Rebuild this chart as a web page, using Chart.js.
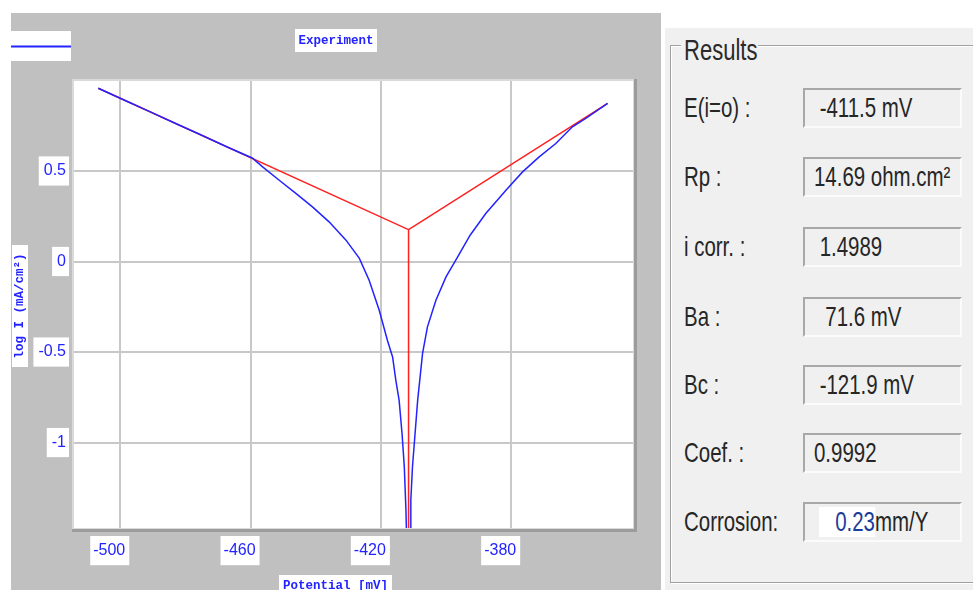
<!DOCTYPE html>
<html>
<head>
<meta charset="utf-8">
<script src="https://cdn.jsdelivr.net/npm/chart.js@4/dist/chart.umd.min.js"></script>
<style>
  html, body { margin: 0; padding: 0; background: #fff; }
  body { width: 973px; height: 590px; position: relative; overflow: hidden; font-family: "Liberation Sans", Arial, sans-serif; }
  #plotWrap { position: absolute; left: 11px; top: 13px; width: 650px; height: 577px; background: #c0c0c0; }
  #plot { display: block; }
  #panel { position: absolute; left: 665px; top: 28px; width: 308px; height: 562px; background: #f0f0f0; }
  .group { position: absolute; left: 5px; top: 17px; width: 320px; height: 536px;
           border: 1px solid #a0a0a0; box-shadow: 1px 1px 0 #fff inset, 1px 1px 0 #fff; }
  .groupTitle { position: absolute; left: 16px; top: 4px; width: 74px; height: 36px; line-height: 36px; padding: 0 0 0 3px;
                background: #f0f0f0; color: #2a2a2a; font-size: 29px; white-space: pre; overflow: visible; }
  .groupTitle .txt { transform: scaleX(0.76); }
  .txt { display: inline-block; transform: scaleX(0.73); transform-origin: 0 50%; white-space: pre; }
  .row { position: absolute; left: 0; width: 308px; height: 40px; }
  .lbl { position: absolute; left: 19px; top: 0; height: 40px; line-height: 40px; font-size: 28px; color: #262626; }
  .box { position: absolute; left: 138px; top: 0; width: 146px; height: 36px; line-height: 36px;
         border: 2px solid; border-color: #a8a8a8 #fbfbfb #fbfbfb #a8a8a8; background: #f0f0f0;
         font-size: 28px; color: #262626; padding-left: 9px; box-sizing: content-box; overflow: hidden; }
  .hl { background: #fff; margin-left: 7px; padding-left: 22px; color: #1b3c9a; display: inline-block; line-height: 30px; }
</style>
</head>
<body>
<div id="plotWrap"><canvas id="plot" width="650" height="577"></canvas></div>
<div id="panel">
  <div class="group"></div>
  <div class="groupTitle"><span class="txt">Results</span></div>
</div>
<script>
// Measured polarization curve: potential (mV) and log current density
const potential = [
  -506.75, -498.0, -491.1, -483.0, -475.8, -467.0, -459.5, -456.3, -451.2, -446.1,
  -441.0, -435.9, -430.7, -426.6, -423.6, -420.5, -418.0, -416.4, -415.4, -414.4,
  -413.5, -412.8, -412.3, -412.0,
  -411.0, -410.8, -410.3, -409.5, -408.7, -407.2, -405.7, -403.1, -400.0, -397.0,
  -392.6, -387.8, -381.6, -376.5, -371.4, -366.3, -361.2, -357.1, -350.4
];
const logCurrent = [
  0.957, 0.885, 0.829, 0.762, 0.704, 0.631, 0.572, 0.523, 0.449, 0.376,
  0.302, 0.219, 0.118, 0.017, -0.103, -0.269, -0.435, -0.527, -0.656, -0.766,
  -0.950, -1.135, -1.374, -1.600,
  -1.600, -1.319, -1.135, -0.950, -0.766, -0.508, -0.361, -0.214, -0.085, 0.007,
  0.145, 0.265, 0.394, 0.495, 0.578, 0.652, 0.744, 0.790, 0.873
];

// Tafel fit results
const eCorr = -411.5;        // mV
const iCorr = 1.4989;        // mA/cm2
const fitPotential = [-506.75, eCorr, eCorr, eCorr, -350.4];
const fitLogCurrent = [0.957, Math.log10(iCorr), -1.6, Math.log10(iCorr), 0.873];

// Axis ticks
const xTicks = [-500, -460, -420, -380];
const yTicks = [-1, -0.5, 0, 0.5];

// Results table
const resultLabels = ['E(i=o) :', 'Rp :', 'i corr. :', 'Ba :', 'Bc :', 'Coef. :', 'Corrosion:'];
const resultValues = [' ' + eCorr.toFixed(1) + ' mV', '14.69 ohm.cm\u00b2', ' ' + iCorr.toFixed(4),
                      '  71.6 mV', ' -121.9 mV', '0.9992', '0.23'];
const corrosionUnit = 'mm/Y';

// build the results panel
const panel = document.getElementById('panel');
const rowTops = [60, 129, 199, 269, 337, 405, 474];
resultLabels.forEach((lab, i) => {
  const row = document.createElement('div');
  row.className = 'row';
  row.style.top = rowTops[i] + 'px';
  const l = document.createElement('div');
  l.className = 'lbl';
  l.innerHTML = '<span class="txt"></span>';
  l.firstChild.textContent = lab;
  const b = document.createElement('div');
  b.className = 'box';
  const t = document.createElement('span');
  t.className = 'txt';
  if (i === resultLabels.length - 1) {
    const hl = document.createElement('span');
    hl.className = 'hl';
    hl.textContent = resultValues[i];
    t.appendChild(hl);
    t.appendChild(document.createTextNode(corrosionUnit));
  } else {
    t.textContent = resultValues[i];
  }
  b.appendChild(t);
  row.appendChild(l);
  row.appendChild(b);
  panel.appendChild(row);
});

const toPoints = (xs, ys) => xs.map((x, i) => ({ x: x, y: ys[i] }));

const blue = '#2323ff';
const monoFont = 'bold 12.5px "Liberation Mono", "DejaVu Sans Mono", monospace';

function boxedText(ctx, text, cx, cy, bx, by, bw, bh, rotate) {
  ctx.save();
  ctx.fillStyle = '#fff';
  ctx.fillRect(bx, by, bw, bh);
  ctx.translate(cx, cy);
  if (rotate) ctx.rotate(-Math.PI / 2);
  ctx.font = monoFont;
  ctx.fillStyle = blue;
  ctx.textAlign = 'center';
  ctx.textBaseline = 'middle';
  ctx.fillText(text, 0, 0);
  ctx.restore();
}

const frame = {
  id: 'frame',
  beforeDraw(chart) {
    const { ctx, chartArea: a } = chart;
    ctx.save();
    ctx.fillStyle = '#fff';
    ctx.fillRect(a.left, a.top, a.right - a.left, a.bottom - a.top);
    ctx.restore();
  },
  afterDraw(chart) {
    const { ctx, chartArea: a } = chart;
    ctx.save();
    // plot frame
    ctx.strokeStyle = '#dadada';
    ctx.lineWidth = 2;
    ctx.strokeRect(a.left - 1, a.top - 1, a.right - a.left + 2, a.bottom - a.top + 2);
    ctx.strokeStyle = '#9c9c9c';
    ctx.lineWidth = 3;
    ctx.beginPath();
    ctx.moveTo(a.left - 2, a.bottom + 2.5);
    ctx.lineTo(a.right + 2.5, a.bottom + 2.5);
    ctx.lineTo(a.right + 2.5, a.top - 2);
    ctx.stroke();
    // legend swatch
    ctx.fillStyle = '#fff';
    ctx.fillRect(0, 18, 60, 30);
    ctx.strokeStyle = blue;
    ctx.lineWidth = 2;
    ctx.beginPath();
    ctx.moveTo(0, 33.5);
    ctx.lineTo(60, 33.5);
    ctx.stroke();
    ctx.restore();
    boxedText(ctx, 'Experiment', 325, 27.5, 284, 16, 82, 23, false);
    boxedText(ctx, 'Potential [mV]', 324.5, 573, 268, 562, 113, 20, false);
    boxedText(ctx, 'log I (mA/cm\u00b2)', 9, 293, 1, 232, 16, 122, true);
  }
};

const tickFont = { family: '"Liberation Sans", Arial, sans-serif', size: 16 };

new Chart(document.getElementById('plot'), {
  type: 'scatter',
  data: {
    datasets: [
      {
        label: 'Experiment',
        data: toPoints(potential, logCurrent),
        showLine: true,
        borderColor: blue,
        borderWidth: 1.5,
        pointRadius: 0,
        tension: 0
      },
      {
        label: 'Tafel fit',
        data: toPoints(fitPotential, fitLogCurrent),
        showLine: true,
        borderColor: '#ff2020',
        borderWidth: 1.5,
        pointRadius: 0,
        tension: 0
      }
    ]
  },
  options: {
    responsive: false,
    animation: false,
    devicePixelRatio: 1,
    layout: { padding: { top: 68, right: 28, left: 0, bottom: 0 } },
    plugins: { legend: { display: false }, tooltip: { enabled: false } },
    scales: {
      x: {
        type: 'linear',
        min: -514.2,
        max: -342.6,
        afterFit(s) { s.height = 62; },
        afterBuildTicks(s) { s.ticks = xTicks.map(v => ({ value: v })); },
        border: { display: false },
        grid: { color: '#c8c8c8', lineWidth: 2, drawTicks: false },
        ticks: {
          color: blue, font: tickFont, padding: 13, labelOffset: -11, maxRotation: 0,
          showLabelBackdrop: true, backdropColor: '#fff',
          backdropPadding: { top: 5, bottom: 5, left: 3, right: 4 },
          callback: v => String(v)
        }
      },
      y: {
        type: 'linear',
        min: -1.472,
        max: 0.997,
        afterFit(s) { s.width = 63; },
        afterBuildTicks(s) { s.ticks = yTicks.map(v => ({ value: v })); },
        border: { display: false },
        grid: { color: '#c8c8c8', lineWidth: 2, drawTicks: false },
        ticks: {
          color: blue, font: tickFont, padding: 8,
          showLabelBackdrop: true, backdropColor: '#fff',
          backdropPadding: { top: 5, bottom: 5, left: 5, right: 3 },
          callback: v => String(v)
        }
      }
    }
  },
  plugins: [frame]
});
</script>
</body>
</html>
